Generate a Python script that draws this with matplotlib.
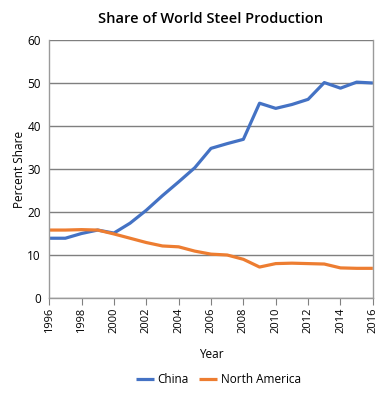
import matplotlib.pyplot as plt

plt.rcParams['font.family'] = ['Open Sans', 'DejaVu Sans']

years = list(range(1996, 2017))
china = [13.9, 13.9, 15.0, 15.8, 15.1, 17.4, 20.4, 23.8, 27.0, 30.3, 34.8,
         35.9, 36.9, 45.3, 44.1, 45.0, 46.2, 50.1, 48.8, 50.2, 50.0]
north_america = [15.8, 15.8, 15.9, 15.8, 14.9, 13.9, 12.9, 12.1, 11.9, 10.9, 10.2,
                 10.0, 9.0, 7.2, 8.0, 8.1, 8.0, 7.9, 7.0, 6.9, 6.9]
xticks = list(range(1996, 2017, 2))
yticks = list(range(0, 61, 10))

fig = plt.figure(figsize=(3.9, 4.0), dpi=100)
ax = fig.add_axes([0.126, 0.255, 0.83, 0.645])

ax.plot(years, china, color='#4472C4', lw=2.3, label='China', solid_capstyle='butt')
ax.plot(years, north_america, color='#ED7D31', lw=2.3, label='North America',
        solid_capstyle='butt')

ax.set_xlim(1996, 2016)
ax.set_ylim(0, 60)
ax.set_xticks(xticks)
ax.set_xticklabels([str(y) for y in xticks], rotation=90, fontsize=8)
ax.set_yticks(yticks)
ax.set_yticklabels([str(y) for y in yticks], fontsize=8.5)
ax.tick_params(axis='x', length=5, color='#808080', pad=2)
ax.tick_params(axis='y', length=0, pad=6)
ax.yaxis.grid(True, color='#7f7f7f', lw=1)
ax.set_axisbelow(True)
for side in ['left', 'right', 'bottom']:
    ax.spines[side].set_color('#9a9a9a')
    ax.spines[side].set_linewidth(1)
ax.spines['top'].set_visible(False)

ax.set_title('Share of World Steel Production', fontsize=10.5, pad=12,
             fontweight='semibold')
ax.set_xlabel('Year', fontsize=8.5, labelpad=11)
ax.set_ylabel('Percent Share', fontsize=8.5, labelpad=1)

fig.legend(loc='center', bbox_to_anchor=(0.56, 0.052), ncol=2, frameon=False,
           fontsize=8.5, handlelength=1.5, columnspacing=0.9, handletextpad=0.3)

fig.savefig('out.png', dpi=100)
